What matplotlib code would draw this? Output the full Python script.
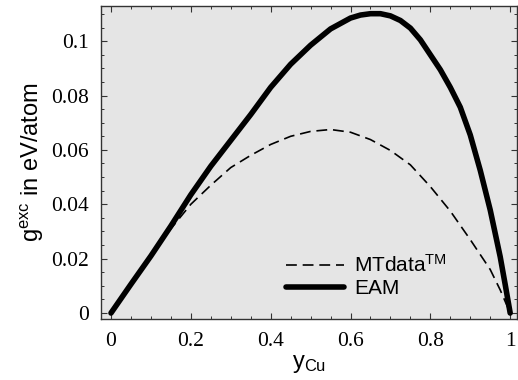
import matplotlib
matplotlib.use("Agg")
import matplotlib.pyplot as plt
from matplotlib.ticker import MultipleLocator, FuncFormatter

# ---- data ----
y_cu_eam = [0.0, 0.05, 0.1, 0.15, 0.2, 0.25, 0.3, 0.35, 0.4, 0.45, 0.5,
            0.55, 0.6, 0.625, 0.65, 0.675, 0.7, 0.725, 0.75, 0.775, 0.8,
            0.825, 0.85, 0.875, 0.9, 0.925, 0.95, 0.975, 0.9875, 1.0]
g_eam = [0.0, 0.0106, 0.021, 0.032, 0.0435, 0.054, 0.0635, 0.073, 0.083,
         0.0915, 0.0985, 0.1045, 0.1085, 0.1096, 0.1101, 0.1101, 0.1093,
         0.1076, 0.1048, 0.1005, 0.0950, 0.0895, 0.0830, 0.0757, 0.0655,
         0.0525, 0.0379, 0.0207, 0.0105, 0.0]
y_cu_mt = [0.0, 0.05, 0.1, 0.15, 0.2, 0.25, 0.3, 0.35, 0.4, 0.45, 0.5,
           0.55, 0.6, 0.65, 0.7, 0.75, 0.8, 0.85, 0.9, 0.925, 0.95, 0.975, 1.0]
g_mt = [0.0, 0.011, 0.021, 0.031, 0.040, 0.047, 0.0535, 0.058, 0.062,
        0.065, 0.0668, 0.0675, 0.0665, 0.0638, 0.0598, 0.0545, 0.0465,
        0.0375, 0.027, 0.0215, 0.016, 0.0085, 0.0]
x_ticks = [0, 0.2, 0.4, 0.6, 0.8, 1]
y_ticks = [0, 0.02, 0.04, 0.06, 0.08, 0.1]
series_labels = ["MTdata$^{\\mathrm{TM}}$", "EAM"]

plt.rcParams["mathtext.fontset"] = "custom"
plt.rcParams["mathtext.rm"] = "Liberation Sans"
plt.rcParams["mathtext.it"] = "Liberation Sans"
plt.rcParams["font.family"] = ["Liberation Sans", "DejaVu Sans"]

fig = plt.figure(figsize=(5.18, 3.80), dpi=100)
ax = fig.add_axes([0.195, 0.1605, 0.803, 0.8235])
ax.set_facecolor("#e5e5e5")

ax.plot(y_cu_mt, g_mt, color="black", lw=1.2, ls=(0, (6.5, 3.5)), label=series_labels[0])
ax.plot(y_cu_eam, g_eam, color="black", lw=4.0, solid_capstyle="round",
        solid_joinstyle="round", label=series_labels[1])

ax.set_xlim(-0.025, 1.017)
ax.set_ylim(-0.0022, 0.1129)

ax.set_xticks(x_ticks)
ax.set_yticks(y_ticks)
ax.xaxis.set_minor_locator(MultipleLocator(0.05))
ax.yaxis.set_minor_locator(MultipleLocator(0.005))

def fmt(v, pos):
    s = ("%.2f" % v).rstrip("0").rstrip(".")
    return s

ax.xaxis.set_major_formatter(FuncFormatter(fmt))
ax.yaxis.set_major_formatter(FuncFormatter(fmt))

ax.tick_params(which="both", direction="in", top=True, right=True, color="#333333")
ax.tick_params(which="major", length=4, width=0.8, labelsize=15.5, pad=9)
ax.tick_params(which="minor", length=2.2, width=0.7)
for lab in ax.get_xticklabels() + ax.get_yticklabels():
    lab.set_family("Liberation Serif")
for sp in ax.spines.values():
    sp.set_color("#333333")
    sp.set_linewidth(1.0)

ax.set_xlabel("y$_{\\mathrm{Cu}}$", fontsize=17, labelpad=2)
ax.set_ylabel("g$^{\\mathrm{exc}}$ in eV/atom", fontsize=17, labelpad=3)

leg = ax.legend(loc="upper left", bbox_to_anchor=(0.445, 0.208), frameon=False,
                fontsize=15, handlelength=2.8, handletextpad=0.45,
                labelspacing=0.15, borderpad=0, borderaxespad=0)

fig.savefig("out.png", dpi=100, facecolor="white")
